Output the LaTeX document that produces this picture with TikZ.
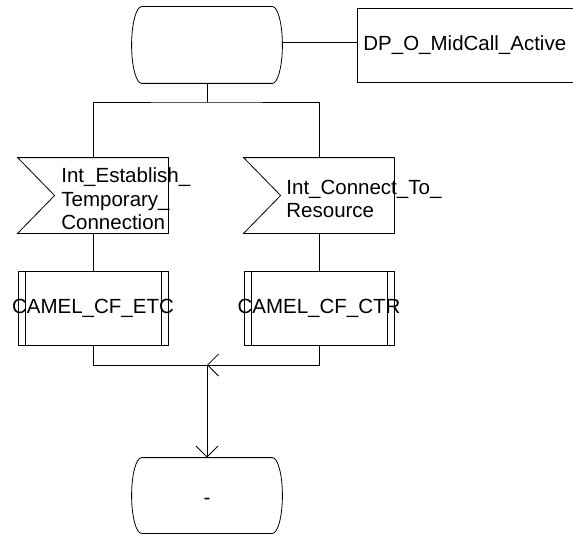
\documentclass[tikz,border=0pt]{standalone}
\usepackage{fontspec}
\setmainfont{Liberation Sans}
\usetikzlibrary{arrows.meta}

\begin{document}
\begin{tikzpicture}[x=1pt,y=-1pt,line width=0.8pt,
    every node/.style={font=\fontsize{20.5}{23.5}\selectfont},
    statebox/.style={rectangle,minimum width=150pt,minimum height=76pt,inner sep=0pt},
    signalbox/.style={rectangle,minimum width=150pt,minimum height=75pt,inner sep=0pt},
    procbox/.style={draw,rectangle,minimum width=150pt,minimum height=74pt,inner sep=0pt,
      path picture={
        \draw ([xshift=7pt]path picture bounding box.north west) -- ([xshift=7pt]path picture bounding box.south west);
        \draw ([xshift=-7pt]path picture bounding box.north east) -- ([xshift=-7pt]path picture bounding box.south east);}},
    arr/.style={-{Straight Barb[length=11pt,width=22pt]}}]
    \useasboundingbox (0,0) rectangle (573,535);

    \node[statebox] (st1) at (207,45) {};
    \node[draw,anchor=west,minimum height=74pt,inner xsep=6pt,text width=220pt,align=left] (dp) at (357,45) {DP\_O\_MidCall\_Active};

    \node[signalbox] (sigA) at (93,195.5) {};
    \node[signalbox] (sigB) at (319,195.5) {};
    \node[anchor=west,align=left,inner sep=0pt] (sigAtext) at (61,199) {Int\_Establish\_\\Temporary\_\\Connection};
    \node[anchor=west,align=left,inner sep=0pt] (sigBtext) at (286,199) {Int\_Connect\_To\_\\Resource};

    \node[procbox] (procA) at (93,308) {\makebox[0pt]{CAMEL\_CF\_ETC}};
    \node[procbox] (procB) at (319,308) {\makebox[0pt]{CAMEL\_CF\_CTR}};

    \node[statebox,minimum height=75pt,text height=17pt,text depth=0pt] (st2) at (207,495.5) {-};

    \foreach \s in {st1,st2}
      \draw ([xshift=10pt]\s.north west) -- ([xshift=-10pt]\s.north east)
        .. controls ([xshift=-4.5pt]\s.north east) and ([yshift=21pt]\s.east) .. (\s.east)
        .. controls ([yshift=-21pt]\s.east) and ([xshift=-4.5pt]\s.south east) .. ([xshift=-10pt]\s.south east)
        -- ([xshift=10pt]\s.south west)
        .. controls ([xshift=4.5pt]\s.south west) and ([yshift=-21pt]\s.west) .. (\s.west)
        .. controls ([yshift=21pt]\s.west) and ([xshift=4.5pt]\s.north west) .. ([xshift=10pt]\s.north west) -- cycle;
    \foreach \s in {sigA,sigB}
      \draw (\s.north west) -- (\s.north east) -- (\s.south east) -- (\s.south west) -- ([xshift=37pt]\s.west) -- cycle;

    \coordinate (fork) at (207,102);
    \coordinate (join) at (207,365);

    \draw ([yshift=3pt]st1.east) -- ([yshift=3pt]st1.east -| dp.west);
    \draw (st1.south) -- (fork);
    \draw (sigA.north) |- (fork) -| (sigB.north);
    \draw (sigA.south) -- (procA.north);
    \draw (sigB.south) -- (procB.north);
    \draw (procA.south) |- (join);
    \draw[arr] (procB.south) |- (join);
    \draw[arr] (join) -- (st2.north);
\end{tikzpicture}
\end{document}
